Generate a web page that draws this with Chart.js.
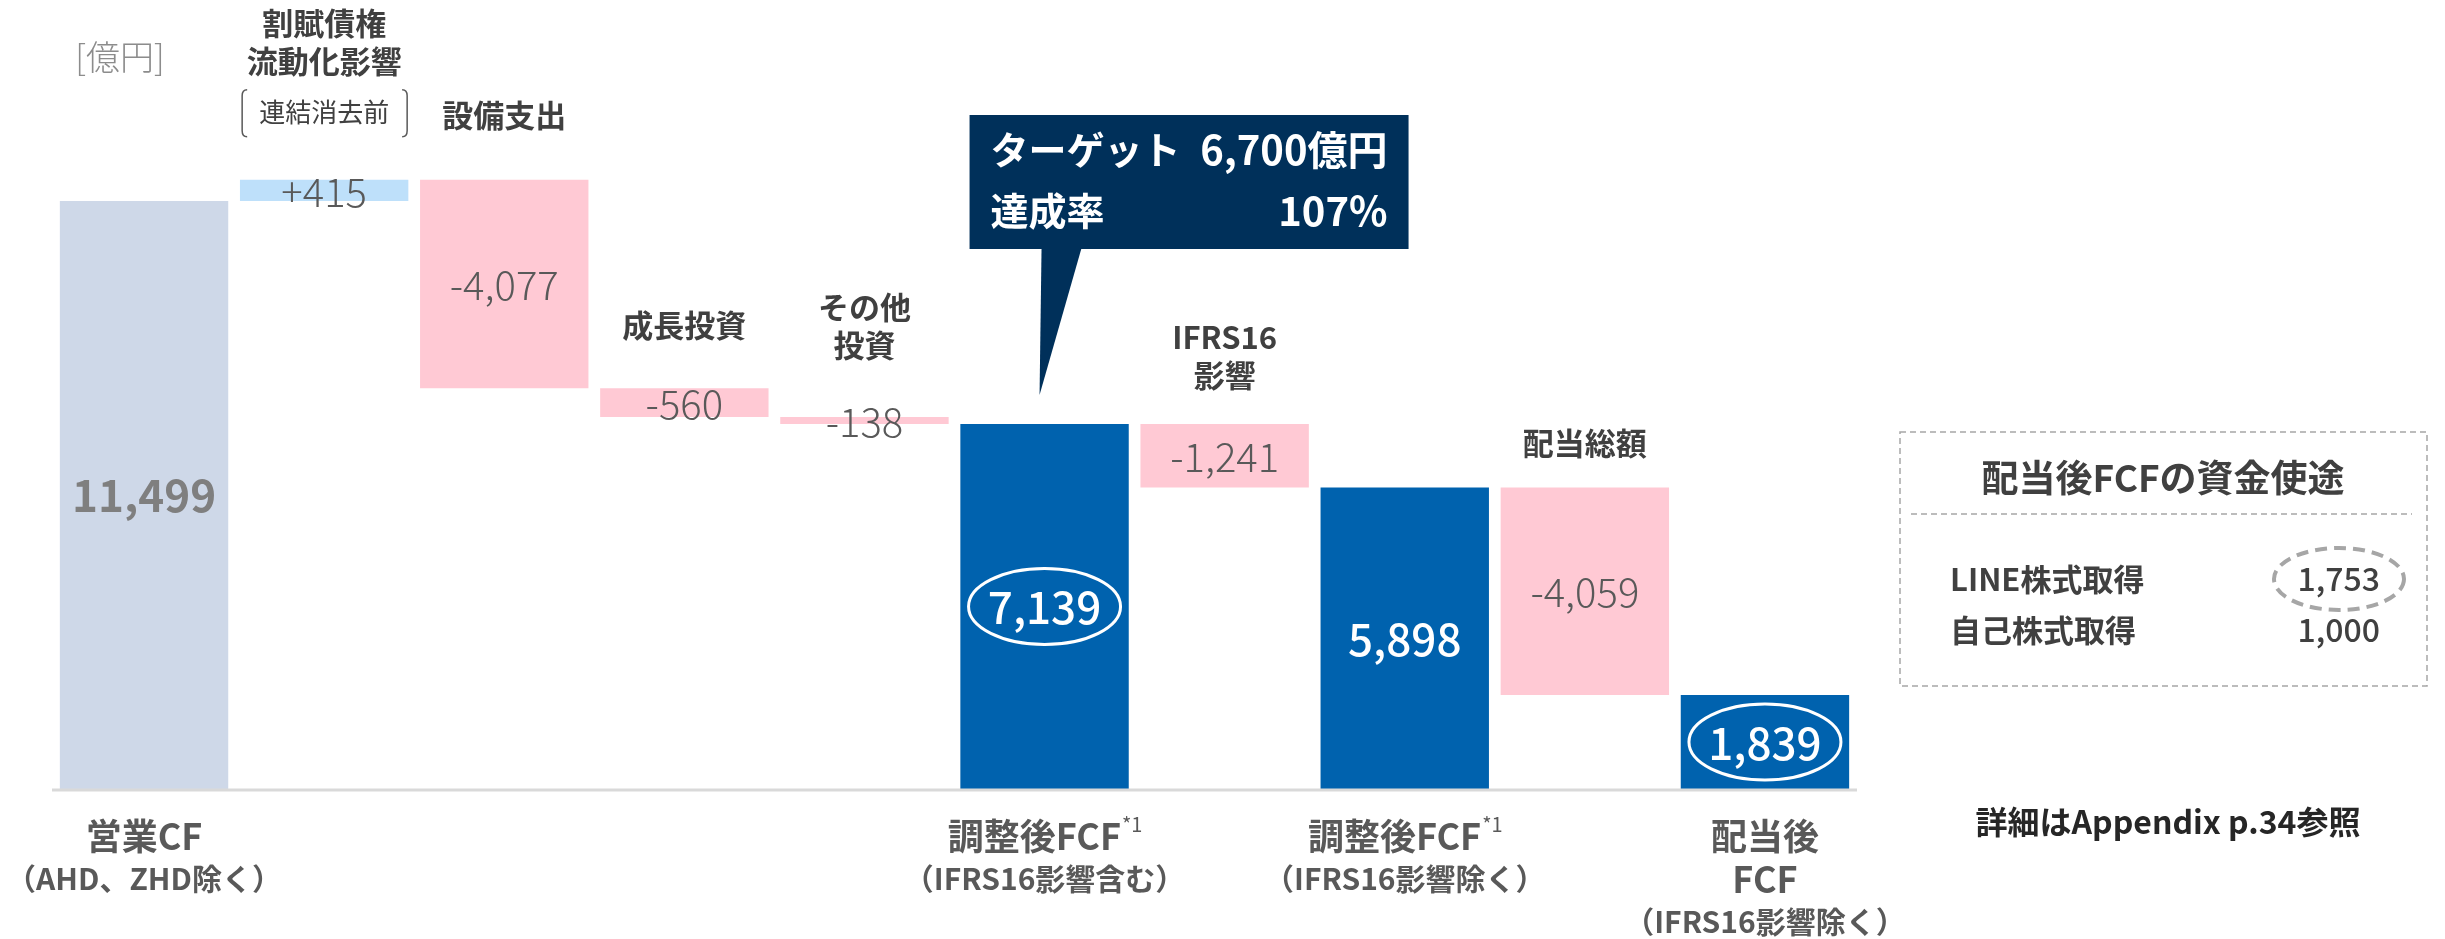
<!DOCTYPE html>
<html>
<head>
<meta charset="utf-8">
<script src="https://cdn.jsdelivr.net/npm/chart.js@4"></script>
<style>
  html, body { margin: 0; padding: 0; background: #fff; }
</style>
</head>
<body>
<canvas id="fcfChart" width="2445" height="939"></canvas>
<script>
// data
var categories = ['営業CF', '割賦債権流動化影響', '設備支出', '成長投資', 'その他投資',
                  '調整後FCF(IFRS16影響含む)', 'IFRS16影響', '調整後FCF(IFRS16影響除く)', '配当総額', '配当後FCF'];
var amounts = [11499, 415, -4077, -560, -138, 7139, -1241, 5898, -4059, 1839];
var kinds = ['start', 'up', 'down', 'down', 'down', 'total', 'down', 'total', 'down', 'total'];
var valueLabels = ['11,499', '+415', '-4,077', '-560', '-138', '7,139', '-1,241', '5,898', '-4,059', '1,839'];
var topLabels = [[], ['割賦債権', '流動化影響'], ['設備支出'], ['成長投資'], ['その他', '投資'], [], ['IFRS16', '影響'], [], ['配当総額'], []];
var topNote = '連結消去前';
var bottomLabels = [['営業CF', '（AHD、ZHD除く）'], [], [], [], [], ['調整後FCF', '（IFRS16影響含む）'], [],
                    ['調整後FCF', '（IFRS16影響除く）'], [], ['配当後', 'FCF', '（IFRS16影響除く）']];
var bottomNotes = ['', '', '', '', '', '*1', '', '*1', '', ''];
var unitLabel = '[億円]';
var calloutLabels = ['ターゲット', '達成率'];
var calloutValues = ['6,700億円', '107%'];
var boxTitle = '配当後FCFの資金使途';
var boxItems = ['LINE株式取得', '自己株式取得'];
var boxValues = ['1,753', '1,000'];
var footNote = '詳細はAppendix p.34参照';

// floating ranges for the waterfall
var running = 0;
var ranges = amounts.map(function (v, i) {
    if (kinds[i] === 'start' || kinds[i] === 'total') { running = v; return [0, v]; }
    var r = [running, running + v];
    running += v;
    return r;
});

var barColors = { start: '#CED8E8', up: '#BEE0FA', down: '#FFC9D4', total: '#0062AE' };
var FONT = '"Noto Sans CJK JP", "Noto Sans", sans-serif';
var circled = [5, 9];
var topOffset = [0, 68, 65, 63, 72, 0, 49, 0, 44, 0];

function txt(ctx, s, x, y, font, color, align) {
    ctx.font = font;
    ctx.fillStyle = color;
    ctx.textAlign = align || 'center';
    ctx.textBaseline = 'middle';
    ctx.fillText(s, x, y);
}

var decorations = {
    id: 'decorations',
    afterDatasetsDraw: function (chart) {
        var ctx = chart.ctx;
        var bars = chart.getDatasetMeta(0).data;
        var y0 = chart.scales.y.getPixelForValue(0);
        ctx.save();

        // baseline
        ctx.strokeStyle = '#D9D9D9';
        ctx.lineWidth = 3;
        ctx.beginPath();
        ctx.moveTo(chart.chartArea.left - 2, y0 + 1);
        ctx.lineTo(chart.chartArea.right + 2, y0 + 1);
        ctx.stroke();

        txt(ctx, unitLabel, 120, 57, '300 34px ' + FONT, '#8C8C8C');

        bars.forEach(function (bar, i) {
            var top = Math.min(bar.y, bar.base), bottom = Math.max(bar.y, bar.base);
            var cy = (top + bottom) / 2;
            var k = kinds[i];
            if (k === 'start') {
                txt(ctx, valueLabels[i], bar.x, cy, 'bold 44px ' + FONT, '#7F7F7F');
            } else if (k === 'total') {
                txt(ctx, valueLabels[i], bar.x, cy + 1, '500 44px ' + FONT, '#FFFFFF');
            } else {
                txt(ctx, valueLabels[i], bar.x, cy + 1, '300 40px ' + FONT, '#595959');
            }
            if (circled.indexOf(i) >= 0) {
                ctx.strokeStyle = '#FFFFFF';
                ctx.lineWidth = 3;
                ctx.beginPath();
                ctx.ellipse(bar.x, cy, 76, 38, 0, 0, Math.PI * 2);
                ctx.stroke();
            }

            // labels above
            var lines = topLabels[i];
            if (lines.length) {
                var last = top - topOffset[i];
                if (i === 1) {
                    txt(ctx, topNote, bar.x, last, '26px ' + FONT, '#404040');
                    ctx.strokeStyle = '#595959';
                    ctx.lineWidth = 1.5;
                    ctx.beginPath();
                    ctx.moveTo(bar.x - 77, last - 22);
                    ctx.quadraticCurveTo(bar.x - 82, last - 22, bar.x - 82, last - 16);
                    ctx.lineTo(bar.x - 82, last + 19);
                    ctx.quadraticCurveTo(bar.x - 82, last + 25, bar.x - 77, last + 25);
                    ctx.moveTo(bar.x + 78, last - 22);
                    ctx.quadraticCurveTo(bar.x + 83, last - 22, bar.x + 83, last - 16);
                    ctx.lineTo(bar.x + 83, last + 19);
                    ctx.quadraticCurveTo(bar.x + 83, last + 25, bar.x + 78, last + 25);
                    ctx.stroke();
                    last -= 51;
                }
                for (var j = 0; j < lines.length; j++) {
                    txt(ctx, lines[j], bar.x, last - (lines.length - 1 - j) * 38, 'bold 31px ' + FONT, '#404040');
                }
            }

            // labels below
            var bl = bottomLabels[i];
            if (bl.length) {
                for (var m = 0; m < bl.length; m++) {
                    var ly = 836 + m * 43;
                    var isSub = bl[m].charAt(0) === '（';
                    var f = isSub ? 'bold 30px ' + FONT : 'bold 36px ' + FONT;
                    if (m === 0 && bottomNotes[i]) {
                        ctx.font = f;
                        var w1 = ctx.measureText(bl[m]).width;
                        ctx.font = '20px ' + FONT;
                        var w2 = ctx.measureText(bottomNotes[i]).width;
                        var sx = bar.x - (w1 + w2) / 2;
                        txt(ctx, bl[m], sx, ly, f, '#595959', 'left');
                        txt(ctx, bottomNotes[i], sx + w1 + 1, ly - 12, '20px ' + FONT, '#595959', 'left');
                    } else {
                        txt(ctx, bl[m], bar.x, ly, f, '#595959');
                    }
                }
            }
        });

        // callout on adjusted FCF
        var cb = bars[5];
        var ctop = Math.min(cb.y, cb.base);
        var bx = cb.x - 75, by = 115, bw = 439, bh = 134;
        ctx.fillStyle = '#00305A';
        ctx.fillRect(bx, by, bw, bh);
        ctx.beginPath();
        ctx.moveTo(cb.x - 3, by + bh - 1);
        ctx.lineTo(cb.x + 37, by + bh - 1);
        ctx.lineTo(cb.x - 5, ctop - 29);
        ctx.closePath();
        ctx.fill();
        for (var c = 0; c < calloutLabels.length; c++) {
            var cy2 = 150 + c * 61;
            txt(ctx, calloutLabels[c], bx + 21, cy2, 'bold 38px ' + FONT, '#FFFFFF', 'left');
            txt(ctx, calloutValues[c], bx + bw - 21, cy2, 'bold 40px ' + FONT, '#FFFFFF', 'right');
        }

        // side box
        ctx.strokeStyle = '#A6A6A6';
        ctx.lineWidth = 1.5;
        ctx.setLineDash([6, 4]);
        ctx.strokeRect(1900, 432, 527, 254);
        ctx.beginPath();
        ctx.moveTo(1911, 514);
        ctx.lineTo(2412, 514);
        ctx.stroke();
        txt(ctx, boxTitle, 2163, 478, 'bold 37px ' + FONT, '#404040');
        for (var b = 0; b < boxItems.length; b++) {
            var yy = 579 + b * 51;
            txt(ctx, boxItems[b], 1950, yy, 'bold 31px ' + FONT, '#404040', 'left');
            txt(ctx, boxValues[b], 2380, yy, '500 32px ' + FONT, '#404040', 'right');
        }
        ctx.lineWidth = 4;
        ctx.setLineDash([12, 7]);
        ctx.beginPath();
        ctx.ellipse(2339, 579, 65, 31, 0, 0, Math.PI * 2);
        ctx.stroke();
        ctx.setLineDash([]);

        txt(ctx, footNote, 2168, 822, 'bold 32px ' + FONT, '#262626');
        ctx.restore();
    }
};

var ctx1 = document.getElementById('fcfChart').getContext('2d');
var fcfChart = new Chart(ctx1, {
    type: 'bar',
    data: {
        labels: categories,
        datasets: [{
            data: ranges,
            backgroundColor: kinds.map(function (k) { return barColors[k]; }),
            barPercentage: 0.935,
            categoryPercentage: 1
        }]
    },
    options: {
        responsive: false,
        animation: false,
        layout: { padding: { left: 54, right: 590, top: 22, bottom: 150 } },
        plugins: { legend: { display: false }, tooltip: { enabled: false } },
        scales: {
            x: { display: false },
            y: { display: false, min: 0, max: 15000 }
        }
    },
    plugins: [decorations]
});
</script>
</body>
</html>
